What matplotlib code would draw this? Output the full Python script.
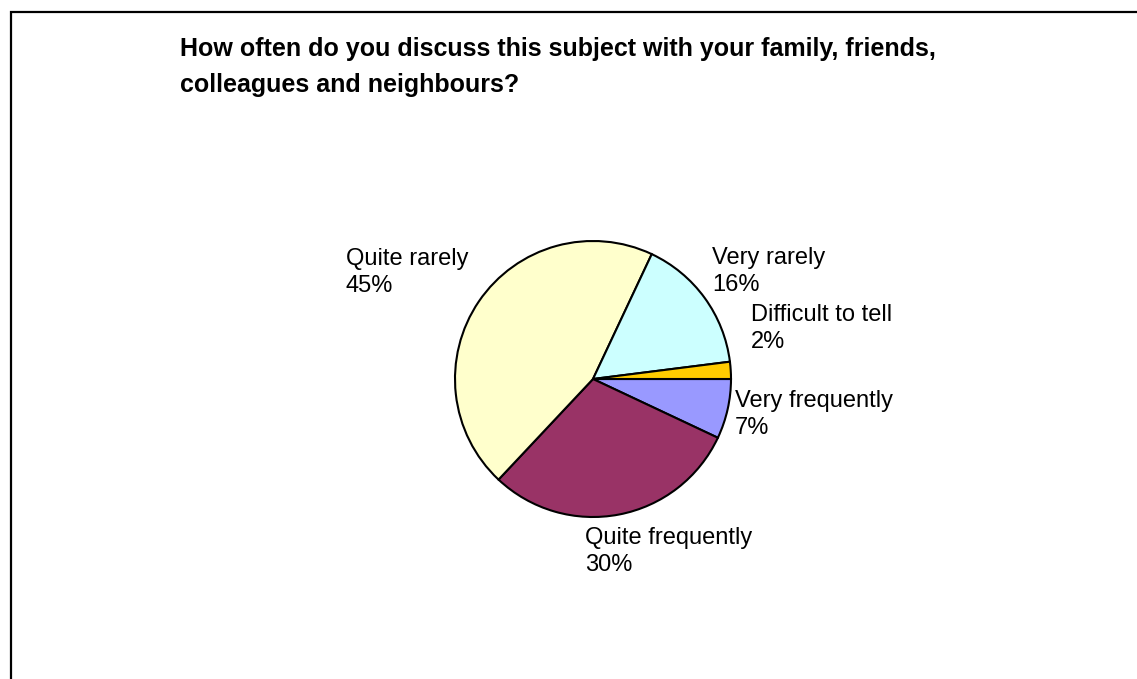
import matplotlib.pyplot as plt
from matplotlib.patches import Rectangle

# survey answers, drawn clockwise from 3 o'clock
answers = ['Very frequently', 'Quite frequently', 'Quite rarely', 'Very rarely', 'Difficult to tell']
shares = [7, 30, 45, 16, 2]
colors = ['#9999FF', '#993366', '#FFFFCC', '#CCFFFF', '#FFCC00']

title = 'How often do you discuss this subject with your family, friends,\ncolleagues and neighbours?'

W, H = 1137, 679
DPI = 100

plt.rcParams['font.family'] = ['Liberation Sans', 'DejaVu Sans']

fig = plt.figure(figsize=(W / DPI, H / DPI), dpi=DPI)


def fx(px):
    return px / W


def fy(py):
    return 1 - py / H


# outer frame (runs off the right and bottom edge)
fig.patches.append(Rectangle((fx(11), fy(700)), fx(1200) - fx(11), fy(12) - fy(700),
                             transform=fig.transFigure, fill=False,
                             edgecolor='black', linewidth=1.6, zorder=0))

fig.text(fx(180), fy(37), title, fontsize=18, fontweight='bold',
         ha='left', va='top', linespacing=1.62)

# pie centred at (593, 379) px, radius 138 px
cx, cy, r = 593, 379, 138
ax = fig.add_axes([fx(cx - r), fy(cy + r), 2 * r / W, 2 * r / H])
ax.pie(shares, colors=colors, startangle=0, counterclock=False,
       wedgeprops=dict(edgecolor='black', linewidth=1.5))
ax.set_xlim(-1, 1)
ax.set_ylim(-1, 1)
ax.axis('off')

# label anchors (left edge, top of first line) in pixels
label_pos = [(735, 390), (585, 527), (346, 248), (712, 247), (751, 304)]
for name, val, (lx, ly) in zip(answers, shares, label_pos):
    fig.text(fx(lx), fy(ly), f'{name}\n{val}%', fontsize=17,
             ha='left', va='top', linespacing=1.3)

fig.savefig('out.png', dpi=DPI)
